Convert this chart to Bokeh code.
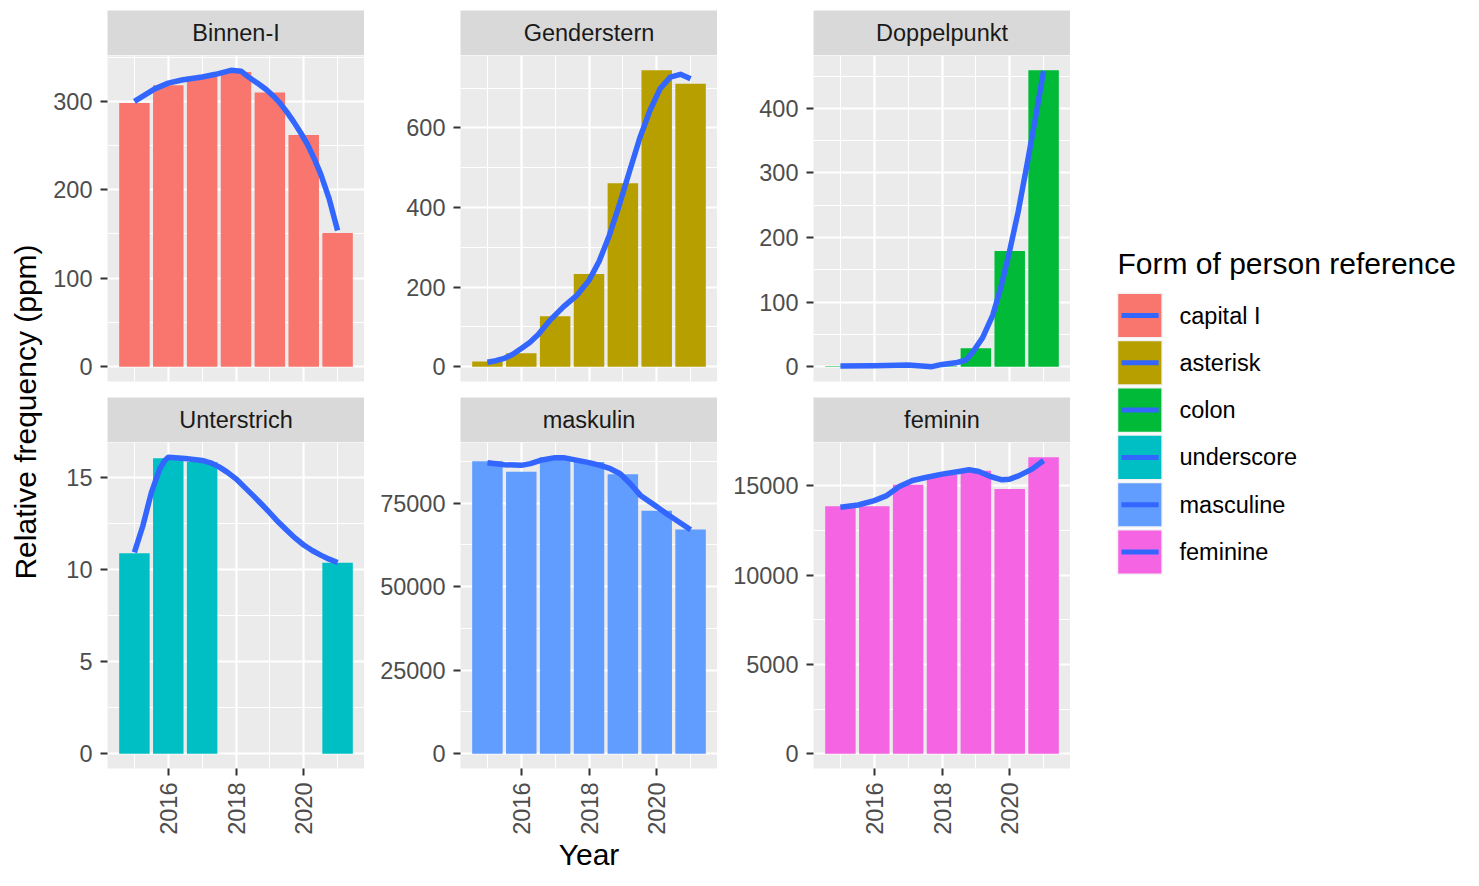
import math
from bokeh.plotting import figure
from bokeh.layouts import row, column
from bokeh.models import Range1d, FixedTicker, Label
from bokeh.core.properties import value
from bokeh.embed import file_html
from bokeh.resources import INLINE

# ---------------- data ----------------
years = [2015, 2016, 2017, 2018, 2019, 2020, 2021]
facet_titles = ["Binnen-I", "Genderstern", "Doppelpunkt", "Unterstrich", "maskulin", "feminin"]
legend_labels = ["capital I", "asterisk", "colon", "underscore", "masculine", "feminine"]
fill_colors = ["#F8766D", "#B79F00", "#00BA38", "#00BFC4", "#619CFF", "#F564E3"]
legend_title = "Form of person reference"
x_title = "Year"
y_title = "Relative frequency (ppm)"

binnen_i = [298, 318, 328, 333, 310, 262, 151]
genderstern = [13, 34, 127, 233, 461, 745, 711]
doppelpunkt = [0.5, 0.3, 0.4, 0.6, 28.5, 179, 459]
unterstrich = [10.9, 16.07, 15.87, None, None, None, 10.38]
maskulin = [87500, 84400, 88700, 87300, 83600, 72700, 67100]
feminin = [13860, 13860, 15060, 15620, 15850, 14830, 16600]

# smoothed trend lines (loess)
binnen_i_smooth_x = [2015, 2015.3, 2015.6, 2016, 2016.4, 2017, 2017.4, 2017.85, 2018.15,
                     2018.4, 2018.65, 2018.9, 2019.1, 2019.3, 2019.5, 2019.7, 2019.9,
                     2020.1, 2020.3, 2020.5, 2020.75, 2021]
binnen_i_smooth_y = [300, 307, 314, 320.5, 324, 327.5, 330.5, 335, 334, 326.5, 320, 313,
                     306, 298, 288, 277, 265, 252, 236, 218, 190, 154]

genderstern_smooth_x = [2015, 2015.25, 2015.5, 2015.75, 2016, 2016.25, 2016.5, 2016.85,
                        2017.25, 2017.65, 2018, 2018.3, 2018.6, 2018.9, 2019.2, 2019.5,
                        2019.8, 2020.1, 2020.4, 2020.7, 2021]
genderstern_smooth_y = [11, 15, 21, 31, 46, 61, 81, 117, 151, 180, 217, 265, 330, 408,
                        492, 575, 644, 699, 728, 735, 724]

doppelpunkt_smooth_x = [2015, 2016, 2017, 2017.7, 2018, 2018.4, 2018.7, 2018.9, 2019.2,
                        2019.5, 2019.75, 2020, 2020.25, 2020.5, 2020.75, 2021]
doppelpunkt_smooth_y = [1, 1.5, 2.5, 0, 3.5, 6, 10, 22, 45, 80, 125, 180, 240, 310,
                        382, 458]

unterstrich_smooth_x = [2015, 2015.25, 2015.5, 2015.75, 2015.9, 2016, 2016.5, 2017,
                        2017.25, 2017.5, 2017.75, 2018, 2018.25, 2018.5, 2018.75, 2019,
                        2019.25, 2019.5, 2019.75, 2020, 2020.25, 2020.5, 2020.75, 2021]
unterstrich_smooth_y = [10.95, 12.4, 14.2, 15.5, 15.95, 16.12, 16.05, 15.95, 15.82,
                        15.6, 15.3, 14.95, 14.5, 14.05, 13.58, 13.1, 12.6, 12.15, 11.72,
                        11.35, 11.05, 10.8, 10.58, 10.4]

maskulin_smooth_x = [2015, 2015.5, 2016, 2016.27, 2016.57, 2017, 2017.25, 2017.55, 2018,
                     2018.33, 2018.63, 2018.92, 2019.22, 2019.52, 2019.8, 2020.02,
                     2020.29, 2020.59, 2021]
maskulin_smooth_y = [87100, 86500, 86300, 86800, 87800, 88600, 88600, 88000, 87100,
                     86300, 85300, 83800, 80800, 77300, 75300, 73800, 71800, 69800,
                     67000]

feminin_smooth_x = [2015, 2015.52, 2016, 2016.35, 2016.74, 2017.13, 2017.52, 2018,
                    2018.5, 2018.8, 2019.09, 2019.43, 2019.77, 2020, 2020.26, 2020.66,
                    2021]
feminin_smooth_y = [13800, 13930, 14175, 14440, 14960, 15300, 15470, 15660, 15810,
                    15900, 15810, 15525, 15340, 15375, 15560, 15940, 16425]

x_breaks = [2016, 2018, 2020]
y_breaks = [
    [0, 100, 200, 300],
    [0, 200, 400, 600],
    [0, 100, 200, 300, 400],
    [0, 5, 10, 15],
    [0, 25000, 50000, 75000],
    [0, 5000, 10000, 15000],
]

bars = [binnen_i, genderstern, doppelpunkt, unterstrich, maskulin, feminin]
smooth_x = [binnen_i_smooth_x, genderstern_smooth_x, doppelpunkt_smooth_x,
            unterstrich_smooth_x, maskulin_smooth_x, feminin_smooth_x]
smooth_y = [binnen_i_smooth_y, genderstern_smooth_y, doppelpunkt_smooth_y,
            unterstrich_smooth_y, maskulin_smooth_y, feminin_smooth_y]

# ---------------- style / layout ----------------
FONT = "Liberation Sans"
SMALL = "23.5px"
BIG = "30px"
SMOOTH_COLOR = "#3366FF"
PANEL_BG = "#EBEBEB"
STRIP_BG = "#D9D9D9"
FRAME_W = 257
FRAME_H = 326
STRIP_H = 45
BAR_W = 0.9
LEFT_BORDERS = [57, 96, 96]
YLAB_W = 50
LEG_W = 395
TOP_PAD = 10
ROW_GAP = 16
BOTTOM_PAD = 110
TOTAL_H = TOP_PAD + STRIP_H + FRAME_H + ROW_GAP + STRIP_H + FRAME_H + BOTTOM_PAD

x_lo = years[0] - BAR_W / 2
x_hi = years[-1] + BAR_W / 2
x_pad = 0.05 * (x_hi - x_lo)
x_minor = [b - 1 for b in x_breaks] + [x_breaks[-1] + 1]


def strip_fig(title, col, top_pad):
    p = figure(frame_width=FRAME_W, frame_height=STRIP_H,
               x_range=Range1d(0, 1), y_range=Range1d(0, 1),
               output_backend="svg", toolbar_location=None,
               min_border_left=LEFT_BORDERS[col], min_border_right=0,
               min_border_top=top_pad, min_border_bottom=0,
               background_fill_color=STRIP_BG, border_fill_color="white",
               outline_line_color=None, x_axis_location=None, y_axis_location=None)
    p.grid.visible = False
    p.add_layout(Label(x=0.5, y=0.5, text=title, text_align="center",
                       text_baseline="middle", text_font=FONT,
                       text_font_size=SMALL, text_color="#1A1A1A"))
    return p


def panel_fig(i, col, bottom_row):
    vals = bars[i]
    bx = [y for y, v in zip(years, vals) if v is not None]
    bt = [v for v in vals if v is not None]
    allv = bt + smooth_y[i] + [0]
    lo, hi = min(allv), max(allv)
    pad = 0.05 * (hi - lo)
    p = figure(frame_width=FRAME_W, frame_height=FRAME_H,
               x_range=Range1d(x_lo - x_pad, x_hi + x_pad),
               y_range=Range1d(lo - pad, hi + pad),
               output_backend="svg", toolbar_location=None,
               min_border_left=LEFT_BORDERS[col], min_border_right=0,
               min_border_top=0,
               min_border_bottom=BOTTOM_PAD if bottom_row else ROW_GAP,
               background_fill_color=PANEL_BG, border_fill_color="white",
               outline_line_color=None)
    brk = y_breaks[i]
    step = brk[1] - brk[0]
    ymin = [brk[0] - step / 2] + [b + step / 2 for b in brk]
    p.xaxis.ticker = FixedTicker(ticks=x_breaks, minor_ticks=x_minor)
    p.xgrid.ticker = FixedTicker(ticks=x_breaks, minor_ticks=x_minor)
    p.yaxis.ticker = FixedTicker(ticks=brk, minor_ticks=ymin)
    p.ygrid.ticker = FixedTicker(ticks=brk, minor_ticks=ymin)
    p.grid.grid_line_color = "white"
    p.grid.grid_line_width = 2.2
    p.grid.minor_grid_line_color = "white"
    p.grid.minor_grid_line_width = 1.1
    for ax in p.axis:
        ax.axis_line_color = None
        ax.major_tick_line_color = "#333333"
        ax.major_tick_line_width = 2
        ax.major_tick_in = 0
        ax.major_tick_out = 7
        ax.minor_tick_line_color = None
        ax.major_label_text_font = FONT
        ax.major_label_text_font_size = SMALL
        ax.major_label_text_color = "#4D4D4D"
    p.yaxis.major_label_standoff = 8
    p.yaxis.major_label_overrides = {b: str(b) for b in brk}
    p.xaxis.major_label_overrides = {b: str(b) for b in x_breaks}
    p.xaxis.major_label_orientation = math.pi / 2
    p.xaxis.major_label_standoff = 7
    if bottom_row:
        if col == 1:
            p.xaxis.axis_label = x_title
            p.xaxis.axis_label_text_font = FONT
            p.xaxis.axis_label_text_font_size = BIG
            p.xaxis.axis_label_text_font_style = "normal"
            p.xaxis.axis_label_text_color = "black"
            p.xaxis.axis_label_standoff = 0
    else:
        p.xaxis.visible = False
    p.vbar(x=bx, top=bt, bottom=0, width=BAR_W, fill_color=fill_colors[i],
           line_color=None)
    p.line(x=smooth_x[i], y=smooth_y[i], line_color=SMOOTH_COLOR, line_width=5.5,
           line_join="round")
    return p


columns = []
for col in range(3):
    s1 = strip_fig(facet_titles[col], col, TOP_PAD)
    p1 = panel_fig(col, col, False)
    s2 = strip_fig(facet_titles[col + 3], col, 0)
    p2 = panel_fig(col + 3, col, True)
    columns.append(column(s1, p1, s2, p2, spacing=0))

# y-axis title (spans both rows, centred on the panel area)
ylab = figure(width=YLAB_W, height=TOTAL_H, x_range=Range1d(0, YLAB_W),
              y_range=Range1d(TOTAL_H, 0), output_backend="svg",
              toolbar_location=None, min_border=0, outline_line_color=None,
              x_axis_location=None, y_axis_location=None,
              background_fill_color="white", border_fill_color="white")
ylab.grid.visible = False
panels_mid = TOP_PAD + STRIP_H + (FRAME_H + ROW_GAP + STRIP_H + FRAME_H) / 2
ylab.add_layout(Label(x=25, y=panels_mid, text=y_title, angle=math.pi / 2,
                      text_align="center", text_baseline="middle",
                      text_font=FONT, text_font_size=BIG, text_color="black"))

# legend
KEY_X = 47
KEY_TOP = 292.7
KEY_PITCH = 47.3
KEY_SIZE = 44.6
TITLE_BASE = 263
leg = figure(width=LEG_W, height=TOTAL_H, x_range=Range1d(0, LEG_W),
             y_range=Range1d(TOTAL_H, 0), output_backend="svg",
             toolbar_location=None, min_border=0, outline_line_color=None,
             x_axis_location=None, y_axis_location=None,
             background_fill_color="white", border_fill_color="white")
leg.grid.visible = False
n = len(legend_labels)
tops = [KEY_TOP + k * KEY_PITCH for k in range(n)]
mids = [t + KEY_SIZE / 2 for t in tops]
leg.quad(left=[KEY_X] * n, right=[KEY_X + KEY_SIZE] * n, top=tops,
         bottom=[t + KEY_SIZE for t in tops], fill_color=fill_colors,
         line_color="#F2F2F2", line_width=1.5)
leg.segment(x0=[KEY_X + 4] * n, x1=[KEY_X + KEY_SIZE - 3.5] * n, y0=mids, y1=mids,
            line_color=SMOOTH_COLOR, line_width=5)
leg.text(x=[KEY_X + 62] * n, y=mids, text=legend_labels, text_baseline="middle",
         text_font=value(FONT), text_font_size=SMALL, text_color="black")
leg.text(x=[KEY_X], y=[TITLE_BASE], text=[legend_title], text_baseline="alphabetic",
         text_font=value(FONT), text_font_size=BIG, text_color="black")

layout = row(ylab, *columns, leg, spacing=0)
open("out.html", "w").write(file_html(layout, INLINE))
